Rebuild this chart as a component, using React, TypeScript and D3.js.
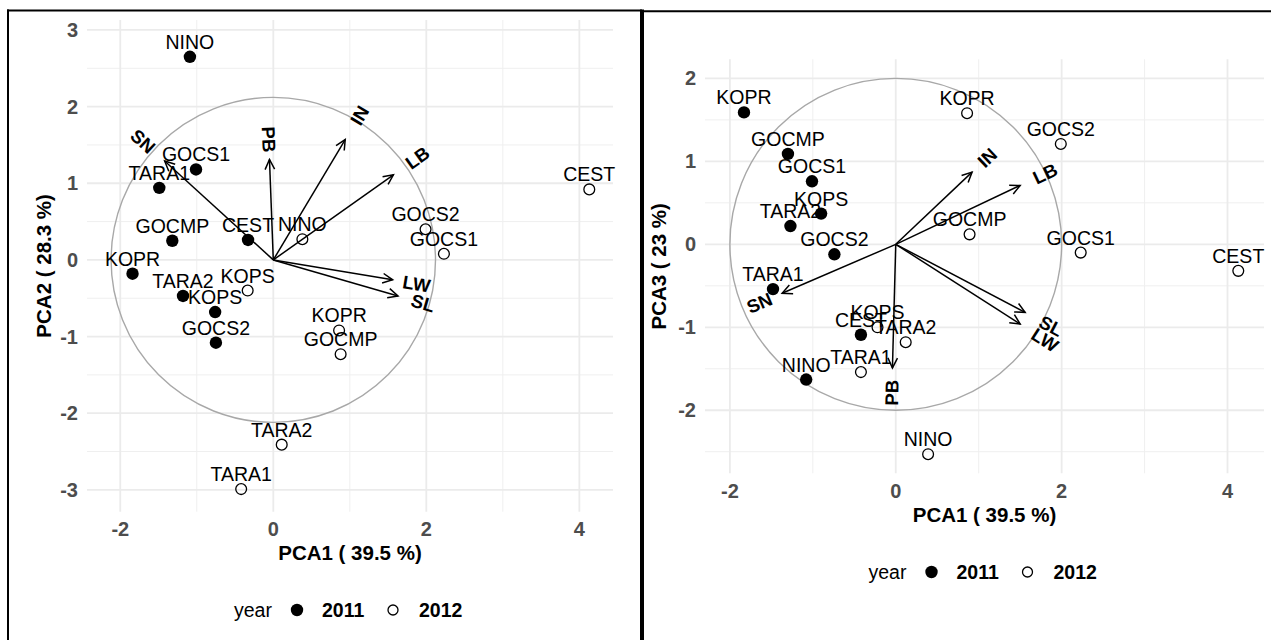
import * as d3 from "d3";
import { useEffect, useRef } from "react";

// sample order shared by every array below
const samples = ["CEST", "GOCMP", "GOCS1", "GOCS2", "KOPR", "KOPS", "NINO", "TARA1", "TARA2"];

// left panel: PCA1 vs PCA2
const pc1Left2011 = [-0.33, -1.32, -1.01, -0.75, -1.84, -0.76, -1.09, -1.49, -1.18];
const pc2Left2011 = [0.26, 0.25, 1.18, -1.08, -0.18, -0.68, 2.65, 0.94, -0.47];
const pc1Left2012 = [4.13, 0.88, 2.23, 1.99, 0.86, -0.335, 0.38, -0.42, 0.11];
const pc2Left2012 = [0.92, -1.23, 0.08, 0.4, -0.92, -0.4, 0.27, -2.99, -2.41];

// right panel: PCA1 vs PCA3
const pc1Right2011 = [-0.42, -1.3, -1.01, -0.74, -1.83, -0.9, -1.08, -1.48, -1.27];
const pc3Right2011 = [-1.09, 1.09, 0.76, -0.12, 1.59, 0.37, -1.63, -0.54, 0.22];
const pc1Right2012 = [4.13, 0.89, 2.23, 1.99, 0.86, -0.22, 0.39, -0.42, 0.12];
const pc3Right2012 = [-0.32, 0.12, -0.1, 1.21, 1.58, -1.0, -2.53, -1.54, -1.18];

// variable loadings (arrows)
const variables = ["SN", "PB", "IN", "LB", "LW", "SL"];
const loadLeftX = [-1.42, -0.05, 0.94, 1.57, 1.56, 1.63];
const loadLeftY = [1.29, 1.31, 1.57, 1.11, -0.26, -0.47];
const loadRightX = [-1.37, -0.04, 0.92, 1.5, 1.5, 1.56];
const loadRightY = [-0.59, -1.49, 0.87, 0.71, -0.96, -0.82];

const years = ["2011", "2012"];
const xTicks = [-2, 0, 2, 4];

const FONT = "'Liberation Sans', Arial, Helvetica, sans-serif";

interface PanelSpec {
  x0: number; x1: number; y0: number; y1: number;
  xDomain: [number, number]; yDomain: [number, number];
  yTicks: number[];
  radius: number;
  x2011: number[]; y2011: number[]; x2012: number[]; y2012: number[];
  loadX: number[]; loadY: number[];
  xTitle: string; yTitle: string;
  xTitleY: number; legendY: number; yTitleX: number;
}

function drawPanel(svg: d3.Selection<SVGSVGElement, unknown, null, undefined>, p: PanelSpec) {
  const x = d3.scaleLinear().domain(p.xDomain).range([p.x0, p.x1]);
  const y = d3.scaleLinear().domain(p.yDomain).range([p.y1, p.y0]);
  const g = svg.append("g");

  // grid: minor then major
  const minorX = d3.range(-5, 6, 2).filter((v) => v > p.xDomain[0] && v < p.xDomain[1]);
  const minorY = d3.range(-3.5, 4, 1).filter((v) => v > p.yDomain[0] && v < p.yDomain[1]);
  const grid = g.append("g");
  grid.selectAll(".mx").data(minorX).enter().append("line")
    .attr("x1", (d) => x(d)).attr("x2", (d) => x(d)).attr("y1", p.y0).attr("y2", p.y1)
    .attr("stroke", "#efefef").attr("stroke-width", 1);
  grid.selectAll(".my").data(minorY).enter().append("line")
    .attr("y1", (d) => y(d)).attr("y2", (d) => y(d)).attr("x1", p.x0).attr("x2", p.x1)
    .attr("stroke", "#efefef").attr("stroke-width", 1);
  grid.selectAll(".Mx").data(xTicks).enter().append("line")
    .attr("x1", (d) => x(d)).attr("x2", (d) => x(d)).attr("y1", p.y0).attr("y2", p.y1)
    .attr("stroke", "#ebebeb").attr("stroke-width", 1.8);
  grid.selectAll(".My").data(p.yTicks).enter().append("line")
    .attr("y1", (d) => y(d)).attr("y2", (d) => y(d)).attr("x1", p.x0).attr("x2", p.x1)
    .attr("stroke", "#ebebeb").attr("stroke-width", 1.8);

  // correlation circle
  g.append("ellipse")
    .attr("cx", x(0)).attr("cy", y(0))
    .attr("rx", x(p.radius) - x(0)).attr("ry", y(0) - y(p.radius))
    .attr("fill", "none").attr("stroke", "#a8a8a8").attr("stroke-width", 1.4);

  // points
  g.selectAll(".p11").data(samples).enter().append("circle")
    .attr("cx", (_, i) => x(p.x2011[i])).attr("cy", (_, i) => y(p.y2011[i]))
    .attr("r", 6.2).attr("fill", "#000");
  g.selectAll(".p12").data(samples).enter().append("circle")
    .attr("cx", (_, i) => x(p.x2012[i])).attr("cy", (_, i) => y(p.y2012[i]))
    .attr("r", 5.4).attr("fill", "none").attr("stroke", "#000").attr("stroke-width", 1.3);

  // point labels
  const lab = g.append("g").attr("font-family", FONT).attr("font-size", 19.5).attr("text-anchor", "middle");
  lab.selectAll(".l11").data(samples).enter().append("text")
    .attr("x", (_, i) => x(p.x2011[i])).attr("y", (_, i) => y(p.y2011[i]) - 8).text((d) => d);
  lab.selectAll(".l12").data(samples).enter().append("text")
    .attr("x", (_, i) => x(p.x2012[i])).attr("y", (_, i) => y(p.y2012[i]) - 8).text((d) => d);

  // arrows
  const ox = x(0), oy = y(0);
  const arr = g.append("g").attr("stroke", "#000").attr("stroke-width", 1.5).attr("fill", "none");
  variables.forEach((v, i) => {
    const tx = x(p.loadX[i]), ty = y(p.loadY[i]);
    const ang = Math.atan2(ty - oy, tx - ox);
    const len = 11, spread = Math.PI / 7;
    arr.append("line").attr("x1", ox).attr("y1", oy).attr("x2", tx).attr("y2", ty);
    arr.append("path").attr("d",
      `M${tx - len * Math.cos(ang - spread)},${ty - len * Math.sin(ang - spread)}L${tx},${ty}L${tx - len * Math.cos(ang + spread)},${ty - len * Math.sin(ang + spread)}`);
    const lx = x(p.loadX[i] * 1.2), ly = y(p.loadY[i] * 1.2);
    const rot = -Math.atan(p.loadY[i] / p.loadX[i]) * 180 / Math.PI;
    g.append("text")
      .attr("transform", `translate(${lx},${ly}) rotate(${rot})`)
      .attr("text-anchor", "middle").attr("dominant-baseline", "central")
      .attr("font-family", FONT).attr("font-size", 18.5).attr("font-weight", "bold")
      .text(v);
  });

  // axis tick labels
  const ticks = g.append("g").attr("font-family", FONT).attr("font-weight", "bold")
    .attr("font-size", 20).attr("fill", "#4d4d4d");
  ticks.selectAll(".tx").data(xTicks).enter().append("text")
    .attr("x", (d) => x(d)).attr("y", p.y1 + 24.5).attr("text-anchor", "middle").text((d) => String(d));
  ticks.selectAll(".ty").data(p.yTicks).enter().append("text")
    .attr("x", p.x0 - 9).attr("y", (d) => y(d)).attr("text-anchor", "end")
    .attr("dominant-baseline", "central").text((d) => String(d));

  // titles
  const cx = (p.x0 + p.x1) / 2;
  g.append("text").attr("x", cx).attr("y", p.xTitleY).attr("text-anchor", "middle")
    .attr("font-family", FONT).attr("font-weight", "bold").attr("font-size", 20.5).text(p.xTitle);
  g.append("text")
    .attr("transform", `translate(${p.yTitleX},${(p.y0 + p.y1) / 2}) rotate(-90)`)
    .attr("text-anchor", "middle").attr("dominant-baseline", "central")
    .attr("font-family", FONT).attr("font-weight", "bold").attr("font-size", 20.5).text(p.yTitle);

  // legend
  const lg = g.append("g").attr("font-family", FONT).attr("font-size", 19.5);
  lg.append("text").attr("x", cx - 116).attr("y", p.legendY).attr("dominant-baseline", "central").text("year");
  lg.append("circle").attr("cx", cx - 53).attr("cy", p.legendY).attr("r", 6.2).attr("fill", "#000");
  lg.append("circle").attr("cx", cx + 43).attr("cy", p.legendY).attr("r", 5)
    .attr("fill", "none").attr("stroke", "#000").attr("stroke-width", 1.3);
  lg.selectAll(".ly").data(years).enter().append("text")
    .attr("x", (_, i) => cx + (i === 0 ? -28 : 69)).attr("y", p.legendY)
    .attr("dominant-baseline", "central").attr("font-weight", "bold").text((d) => d);
}

export default function App() {
  const svgRef = useRef<SVGSVGElement>(null);

  useEffect(() => {
    if (!svgRef.current) return;
    const svg = d3.select(svgRef.current);
    svg.selectAll("*").remove();

    svg.append("rect").attr("width", 1271).attr("height", 640).attr("fill", "#fff");

    drawPanel(svg, {
      x0: 87, x1: 613, y0: 20, y1: 511.7,
      xDomain: [-2.435, 4.44], yDomain: [-3.285, 3.13],
      yTicks: [-3, -2, -1, 0, 1, 2, 3], radius: 2.12,
      x2011: pc1Left2011, y2011: pc2Left2011, x2012: pc1Left2012, y2012: pc2Left2012,
      loadX: loadLeftX, loadY: loadLeftY,
      xTitle: "PCA1 ( 39.5 %)", yTitle: "PCA2 ( 28.3 %)",
      xTitleY: 560, legendY: 610, yTitleX: 43,
    });
    drawPanel(svg, {
      x0: 705, x1: 1264, y0: 59.3, y1: 473.3,
      xDomain: [-2.3, 4.44], yDomain: [-2.76, 2.23],
      yTicks: [-2, -1, 0, 1, 2], radius: 2.0,
      x2011: pc1Right2011, y2011: pc3Right2011, x2012: pc1Right2012, y2012: pc3Right2012,
      loadX: loadRightX, loadY: loadRightY,
      xTitle: "PCA1 ( 39.5 %)", yTitle: "PCA3 ( 23 %)",
      xTitleY: 522, legendY: 572, yTitleX: 658,
    });

    // frame lines
    const frame = svg.append("g").attr("stroke", "#000");
    frame.append("line").attr("x1", 7).attr("x2", 642).attr("y1", 10.5).attr("y2", 10.5).attr("stroke-width", 2);
    frame.append("line").attr("x1", 642).attr("x2", 1271).attr("y1", 11.3).attr("y2", 11.3).attr("stroke-width", 2);
    frame.append("line").attr("x1", 8).attr("x2", 8).attr("y1", 9.5).attr("y2", 640).attr("stroke-width", 2);
    frame.append("line").attr("x1", 642).attr("x2", 642).attr("y1", 9.5).attr("y2", 640).attr("stroke-width", 4);
  }, []);

  return (
    <svg ref={svgRef} width={1271} height={640}
      style={{ position: "absolute", left: 0, top: 0 }} />
  );
}
